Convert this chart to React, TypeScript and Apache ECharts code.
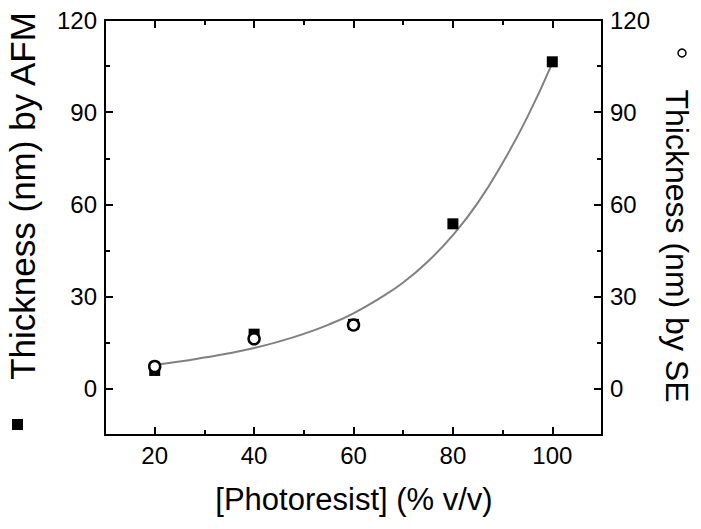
import React, { useEffect, useRef } from "react";
import * as echarts from "echarts";

const xPoints = [20, 40, 60, 80, 100];
const afmValues = [6.0, 17.8, 21.0, 53.7, 106.4];
const seX = [20, 40, 60];
const seValues = [7.3, 16.3, 20.8];
const fitX = [20, 25, 30, 35, 40, 45, 50, 55, 60, 65, 70, 75, 80, 85, 90, 95, 100];
const fitY = [7.8, 8.9, 10.2, 11.6, 13.3, 15.4, 17.9, 20.9, 24.6, 29.2, 34.6, 41.5, 50.0, 60.5, 73.5, 88.5, 106.0];
const xMajor = [20, 40, 60, 80, 100];
const xMinor = [30, 50, 70, 90];
const yMajor = [0, 30, 60, 90, 120];
const yMinor = [-15, 15, 45, 75, 105];

const FONT = '"Liberation Sans", Arial, sans-serif';

export default function App() {
  const ref = useRef<HTMLDivElement>(null);
  useEffect(() => {
    if (!ref.current) return;
    const chart = echarts.init(ref.current, undefined, { renderer: "svg" });
    const lineStyle = { color: "#000", width: 2 };
    const mkX = (position: string, vals: number[], len: number, showLine: boolean, showLabel: boolean) => ({
      type: "value",
      min: 10,
      max: 110,
      position,
      axisLine: { show: showLine, onZero: false, lineStyle },
      axisTick: { show: true, inside: true, length: len, customValues: vals, lineStyle },
      axisLabel: showLabel
        ? { show: true, customValues: vals, fontSize: 24, color: "#000", fontFamily: FONT, margin: 8 }
        : { show: false },
      splitLine: { show: false },
    });
    const mkY = (position: string, vals: number[], len: number, showLine: boolean, showLabel: boolean) => ({
      type: "value",
      min: -15,
      max: 120,
      position,
      axisLine: { show: showLine, onZero: false, lineStyle },
      axisTick: { show: true, inside: true, length: len, customValues: vals, lineStyle },
      axisLabel: showLabel
        ? { show: true, customValues: vals, fontSize: 24, color: "#000", fontFamily: FONT, margin: 8 }
        : { show: false },
      splitLine: { show: false },
    });
    chart.setOption({
      animation: false,
      backgroundColor: "#fff",
      grid: { left: 105, right: 99, top: 20, bottom: 94, containLabel: false },
      xAxis: [
        mkX("bottom", xMajor, 8, true, true),
        mkX("bottom", xMinor, 5, false, false),
        mkX("top", xMajor, 8, true, false),
        mkX("top", xMinor, 5, false, false),
      ],
      yAxis: [
        mkY("left", yMajor, 8, true, true),
        mkY("left", yMinor, 5, false, false),
        mkY("right", yMajor, 8, true, true),
        mkY("right", yMinor, 5, false, false),
      ],
      series: [
        {
          type: "line",
          xAxisIndex: 0,
          yAxisIndex: 0,
          data: fitX.map((x, i) => [x, fitY[i]]),
          smooth: true,
          showSymbol: false,
          symbol: "none",
          lineStyle: { color: "#808080", width: 2 },
          z: 1,
        },
        {
          type: "scatter",
          xAxisIndex: 0,
          yAxisIndex: 0,
          data: xPoints.map((x, i) => [x, afmValues[i]]),
          symbol: "rect",
          symbolSize: 11,
          itemStyle: { color: "#000", opacity: 1 },
          z: 2,
        },
        {
          type: "scatter",
          xAxisIndex: 0,
          yAxisIndex: 0,
          data: seX.map((x, i) => [x, seValues[i]]),
          symbol: "circle",
          symbolSize: 11,
          itemStyle: { color: "#fff", borderColor: "#000", borderWidth: 2.5, opacity: 1 },
          z: 3,
        },
      ],
      graphic: [
        {
          type: "text",
          x: 22,
          y: 196,
          rotation: Math.PI / 2,
          style: { text: "Thickness (nm) by AFM", font: `35px ${FONT}`, fill: "#000", align: "center", verticalAlign: "middle" },
        },
        { type: "rect", shape: { x: 12, y: 419, width: 11, height: 11 }, style: { fill: "#000" } },
        {
          type: "text",
          x: 677,
          y: 246,
          rotation: -Math.PI / 2,
          style: { text: "Thickness (nm) by SE", font: `32px ${FONT}`, fill: "#000", align: "center", verticalAlign: "middle" },
        },
        { type: "circle", shape: { cx: 682, cy: 53, r: 4 }, style: { fill: "#fff", stroke: "#000", lineWidth: 1.5 } },
        {
          type: "text",
          x: 354,
          y: 499,
          style: { text: "[Photoresist] (% v/v)", font: `31px ${FONT}`, fill: "#000", align: "center", verticalAlign: "middle" },
        },
      ],
    });
    return () => chart.dispose();
  }, []);
  return <div ref={ref} style={{ position: "fixed", left: 0, top: 0, width: 701, height: 529, background: "#fff" }} />;
}
